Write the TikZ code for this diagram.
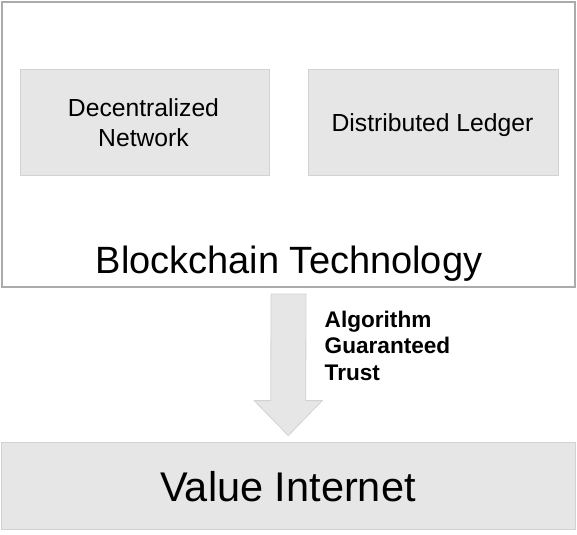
\documentclass[tikz,border=0pt]{standalone}
\usepackage{fontspec}
\setmainfont{Liberation Sans}
\usetikzlibrary{calc}
\definecolor{boxfill}{HTML}{E6E6E6}
\definecolor{boxline}{HTML}{D2D2D2}
\definecolor{outerline}{HTML}{ABABAB}
\tikzset{
  outerbox/.style={draw=outerline, line width=2bp, fill=white, inner sep=0pt},
  graybox/.style={draw=boxline, line width=0.8bp, fill=boxfill, inner sep=0pt},
  boxtext/.style={inner sep=0pt, anchor=base, font=\fontsize{24.7bp}{30bp}\selectfont},
  bigarrow/.style={draw=boxline, line width=0.8bp, fill=boxfill},
  labeltext/.style={font=\bfseries\fontsize{22.6bp}{26.5bp}\selectfont, align=left, inner sep=0pt, anchor=base west},
}
\begin{document}
\begin{tikzpicture}[x=1bp,y=-1bp]
\useasboundingbox (0,0) rectangle (577,535);
\node[outerbox, minimum width=573bp, minimum height=285bp] (bt) at (288.5,144.5) {};
\node[graybox, minimum width=249bp, minimum height=106bp] (dn) at (144.5,122) {};
\node[graybox, minimum width=250bp, minimum height=106bp] (dl) at (433,122) {};
\node[boxtext] (dnt1) at (143.5,117) {Decentralized};
\node[boxtext] (dnt2) at (143.5,147) {Network};
\node[boxtext] (dlt) at (432.5,131.7) {Distributed Ledger};
\node[inner sep=0pt, anchor=base, font=\fontsize{38bp}{40bp}\selectfont] (btt) at (289,273) {Blockchain Technology};
\node[graybox, minimum width=573.5bp, minimum height=87bp] (vi) at (288.25,485.5) {};
\node[inner sep=0pt, anchor=base, font=\fontsize{41.5bp}{44bp}\selectfont] (vit) at (288,501.7) {Value Internet};
\path (bt.south) ++(0,6) coordinate (a1);
\path (vi.north) ++(0,-6) coordinate (a2);
\draw[bigarrow] ($(a1)+(-17.5,0)$) -- ($(a1)+(17.5,0)$) -- ($(a2)+(17.5,-35)$) -- ($(a2)+(34,-35)$)
  -- (a2) -- ($(a2)+(-34,-35)$) -- ($(a2)+(-17.5,-35)$) -- cycle;
\node[labeltext] (agt) at (324.5,380) {Algorithm\\Guaranteed\\Trust};
\end{tikzpicture}
\end{document}
